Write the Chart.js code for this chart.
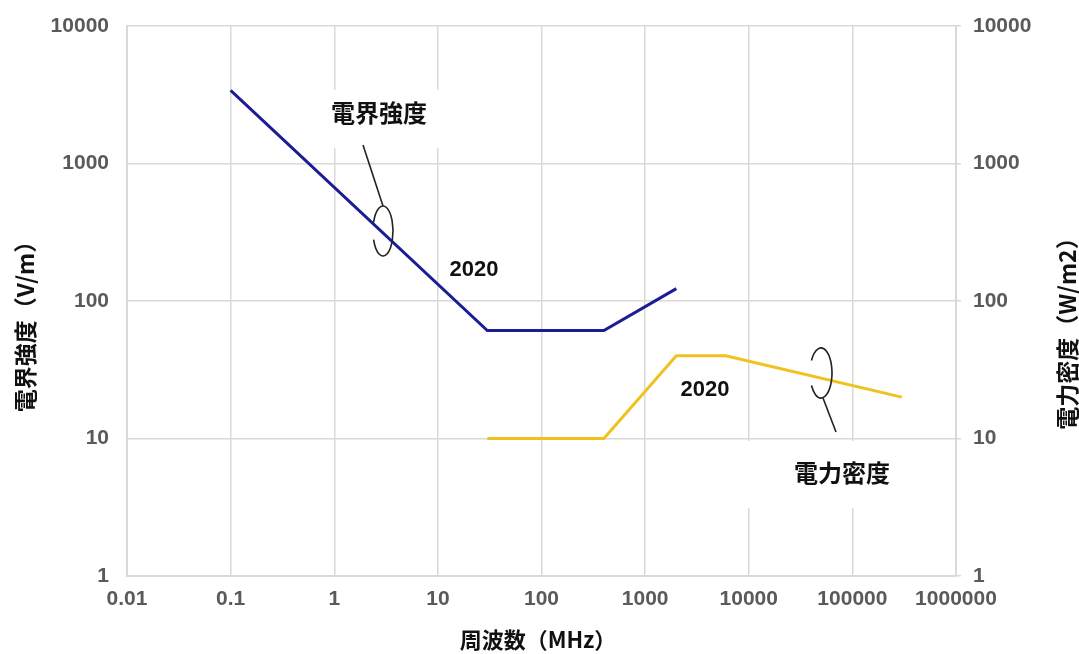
<!DOCTYPE html>
<html lang="ja">
<head>
<meta charset="utf-8">
<script src="https://cdn.jsdelivr.net/npm/chart.js@4.4.1/dist/chart.umd.min.js"></script>
<style>
  body { margin: 0; background: #fff; }
</style>
</head>
<body>
<canvas id="grafico" width="1079" height="654"></canvas>
<script>
// 周波数 (MHz) と値
const efFreq = [0.1, 30, 400, 2000];
const efValue = [3400, 61, 61, 123];          // 電界強度 V/m
const pdFreq = [30, 400, 2000, 6000, 300000];
const pdValue = [10, 10, 40, 40, 20];          // 電力密度 W/m2

const xTicks = [0.01, 0.1, 1, 10, 100, 1000, 10000, 100000, 1000000];
const yTicks = [1, 10, 100, 1000, 10000];

const gris = '#d9d9d9';
const numFont = { family: 'Liberation Sans, Arial, sans-serif', size: 21, weight: 'bold' };
const jpFont = '"Noto Sans CJK JP", sans-serif';

// anotaciones dibujadas a mano
const anotaciones = {
  id: 'anotaciones',
  beforeDatasetsDraw(chart) {
    const ctx = chart.ctx;
    ctx.save();
    ctx.fillStyle = '#fff';
    ctx.fillRect(306, 90, 174, 58);
    ctx.fillRect(738, 441, 212, 67);
    ctx.restore();
  },
  afterDatasetsDraw(chart) {
    const ctx = chart.ctx;
    ctx.save();
    ctx.strokeStyle = '#222';
    ctx.lineWidth = 1.6;
    // 電界強度 の引き出し線
    ctx.beginPath();
    ctx.moveTo(363, 145);
    ctx.lineTo(383, 206);
    ctx.stroke();
    ctx.beginPath();
    ctx.ellipse(383, 231, 10, 25, 0, 200 * Math.PI / 180, 520 * Math.PI / 180);
    ctx.stroke();
    // 電力密度 の引き出し線
    ctx.beginPath();
    ctx.ellipse(821, 373, 11, 25, 0, 210 * Math.PI / 180, 510 * Math.PI / 180);
    ctx.stroke();
    ctx.beginPath();
    ctx.moveTo(823, 398);
    ctx.lineTo(836, 432);
    ctx.stroke();

    ctx.fillStyle = '#111';
    ctx.textAlign = 'center';
    ctx.textBaseline = 'middle';
    ctx.font = 'bold 24px ' + jpFont;
    ctx.fillText('電界強度', 379, 113);
    ctx.fillText('電力密度', 842, 473);
    ctx.font = 'bold 22px Liberation Sans, Arial, sans-serif';
    ctx.fillText('2020', 474, 270);
    ctx.fillText('2020', 705, 390);

    // títulos de ejes
    ctx.font = 'bold 22px ' + jpFont;
    ctx.fillText('周波数（MHz）', 538, 640);
    ctx.font = 'bold 23px ' + jpFont;
    ctx.translate(25, 321);
    ctx.rotate(-Math.PI / 2);
    ctx.fillText('電界強度（V/m）', 0, 0);
    ctx.restore();
    ctx.save();
    ctx.fillStyle = '#111';
    ctx.textAlign = 'center';
    ctx.textBaseline = 'middle';
    ctx.font = 'bold 23px ' + jpFont;
    ctx.translate(1067, 328);
    ctx.rotate(-Math.PI / 2);
    ctx.fillText('電力密度（W/m2）', 0, 0);
    ctx.restore();
  }
};

const data = {
  datasets: [
    {
      label: '電界強度',
      data: efFreq.map((f, i) => ({ x: f, y: efValue[i] })),
      borderColor: '#1c1c94',
      borderWidth: 3,
      yAxisID: 'y',
    },
    {
      label: '電力密度',
      data: pdFreq.map((f, i) => ({ x: f, y: pdValue[i] })),
      borderColor: '#efc21d',
      borderWidth: 3,
      yAxisID: 'y2',
    },
  ],
};

const options = {
  responsive: false,
  animation: false,
  showLine: true,
  elements: { point: { radius: 0 }, line: { tension: 0 } },
  layout: { padding: { top: 26, left: 0, right: 0, bottom: 0 } },
  plugins: { legend: { display: false }, tooltip: { enabled: false } },
  scales: {
    x: {
      type: 'logarithmic',
      min: 0.01,
      max: 1000000,
      afterBuildTicks: s => { s.ticks = xTicks.map(v => ({ value: v })); },
      afterFit: s => { s.height = 78; s.paddingLeft = 0; s.paddingRight = 0; },
      grid: { color: gris, lineWidth: 1.5, drawTicks: false },
      border: { color: gris, width: 2 },
      ticks: { color: '#5a5a5a', font: numFont, padding: 11, maxRotation: 0, autoSkip: false,
               callback: v => String(v) },
    },
    y: {
      type: 'logarithmic',
      position: 'left',
      min: 1,
      max: 10000,
      afterBuildTicks: s => { s.ticks = yTicks.map(v => ({ value: v })); },
      afterFit: s => { s.width = 127; s.paddingTop = 0; s.paddingBottom = 0; },
      grid: { color: gris, lineWidth: 1.5, drawTicks: false },
      border: { color: gris, width: 2 },
      ticks: { color: '#5a5a5a', font: numFont, padding: 18, callback: v => String(v) },
    },
    y2: {
      type: 'logarithmic',
      position: 'right',
      min: 1,
      max: 10000,
      afterBuildTicks: s => { s.ticks = yTicks.map(v => ({ value: v })); },
      afterFit: s => { s.width = 123; s.paddingTop = 0; s.paddingBottom = 0; },
      grid: { color: gris, lineWidth: 1.5, drawOnChartArea: false, tickLength: 5 },
      border: { color: gris, width: 2 },
      ticks: { color: '#5a5a5a', font: numFont, padding: 12, callback: v => String(v) },
    },
  },
};

const ctx = document.getElementById('grafico').getContext('2d');
new Chart(ctx, {
  type: 'scatter',
  data: data,
  options: options,
  plugins: [anotaciones],
});
</script>
</body>
</html>
